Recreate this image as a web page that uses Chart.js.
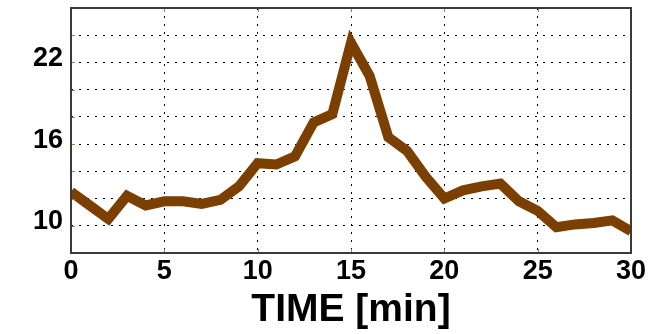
<!DOCTYPE html>
<html>
<head>
<meta charset="utf-8">
<script src="https://cdn.jsdelivr.net/npm/chart.js@4.4.1/dist/chart.umd.min.js"></script>
<style>
    html, body { margin: 0; padding: 0; background: #ffffff; }
    #wrap { width: 658px; height: 334px; position: relative; }
</style>
</head>
<body>
<div id="wrap"><canvas id="mainChart"></canvas></div>
<script>
"use strict";
// readings, one per minute
const timeMin = [0, 1, 2, 3, 4, 5, 6, 7, 8, 9, 10, 11, 12, 13, 14, 15, 16, 17, 18, 19, 20, 21, 22, 23, 24, 25, 26, 27, 28, 29, 30];
const seriesValues = [12.5, 11.5, 10.5, 12.2, 11.5, 11.8, 11.8, 11.6, 11.9, 12.9, 14.6, 14.5, 15.1, 17.6, 18.2, 23.45, 21.0, 16.5, 15.5, 13.6, 12.0, 12.6, 12.9, 13.1, 11.8, 11.1, 9.9, 10.1, 10.2, 10.4, 9.6];
const yTickLabels = [10, 16, 22];
const xAxisTitle = 'TIME [min]';

const points = timeMin.map((t, i) => ({ x: t, y: seriesValues[i] }));

// black frame round the plot plus the small inner tick marks
const frameBox = {
    id: 'frameBox',
    afterDatasetsDraw(chart) {
        const { ctx, chartArea: a, scales } = chart;
        ctx.save();
        ctx.strokeStyle = '#c07830';
        ctx.lineWidth = 1;
        scales.y.ticks.forEach((t) => {
            const py = Math.round(scales.y.getPixelForValue(t.value)) + 0.5;
            ctx.beginPath();
            ctx.moveTo(a.left, py);
            ctx.lineTo(a.left + 4, py);
            ctx.stroke();
        });
        scales.x.ticks.forEach((t) => {
            const px = Math.round(scales.x.getPixelForValue(t.value)) + 0.5;
            ctx.beginPath();
            ctx.moveTo(px, a.top);
            ctx.lineTo(px, a.top + 4);
            ctx.moveTo(px, a.bottom);
            ctx.lineTo(px, a.bottom - 4);
            ctx.stroke();
        });
        ctx.strokeStyle = '#3a3a3a';
        ctx.lineWidth = 2;
        ctx.strokeRect(a.left, a.top, a.right - a.left, a.bottom - a.top);
        ctx.restore();
    }
};

const gridStyle = {
    color: '#000000',
    lineWidth: 1,
    drawTicks: false
};

const tickFont = { family: 'Liberation Sans, Arial, sans-serif', size: 27, weight: 'bold' };

new Chart(document.getElementById('mainChart'), {
    type: 'line',
    data: {
        datasets: [{
            data: points,
            borderColor: '#7b3f00',
            borderWidth: 10,
            pointRadius: 0,
            tension: 0,
            fill: false
        }]
    },
    options: {
        responsive: true,
        maintainAspectRatio: false,
        animation: false,
        layout: { padding: { top: 8, right: 27, left: 0, bottom: 0 } },
        plugins: {
            legend: { display: false },
            tooltip: { enabled: false }
        },
        scales: {
            x: {
                type: 'linear',
                min: 0,
                max: 30,
                afterFit(scale) {
                    scale.height = 81;
                    scale.paddingLeft = 0;
                    scale.paddingRight = 0;
                },
                border: { display: false, dash: [2, 6] },
                grid: gridStyle,
                ticks: {
                    stepSize: 5,
                    padding: 2,
                    autoSkip: false,
                    color: '#000000',
                    maxRotation: 0,
                    font: tickFont
                },
                title: {
                    display: true,
                    text: xAxisTitle,
                    color: '#000000',
                    padding: { top: 0, bottom: 0 },
                    font: { family: 'Liberation Sans, Arial, sans-serif', size: 39, weight: 'bold' }
                }
            },
            y: {
                min: 8,
                max: 26,
                afterFit(scale) {
                    scale.width = 71;
                    scale.paddingTop = 0;
                    scale.paddingBottom = 0;
                },
                border: { display: false, dash: [2, 6] },
                grid: gridStyle,
                ticks: {
                    stepSize: 2,
                    padding: 8,
                    autoSkip: false,
                    labelOffset: -4,
                    color: '#000000',
                    font: tickFont,
                    callback: (v) => yTickLabels.includes(v) ? String(v) : ''
                }
            }
        }
    },
    plugins: [frameBox]
});
</script>
</body>
</html>
